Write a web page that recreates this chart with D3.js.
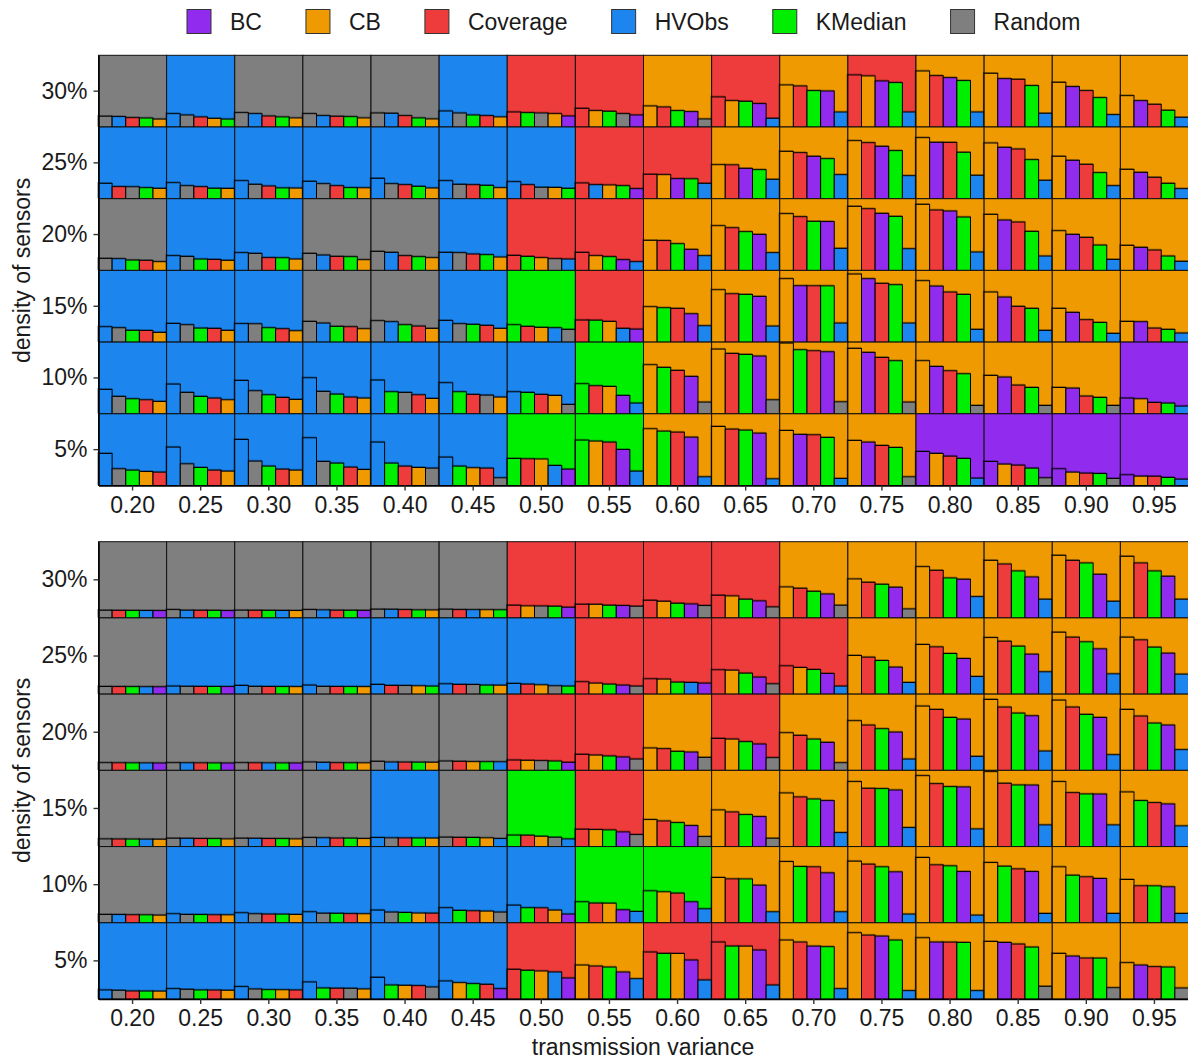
<!DOCTYPE html>
<html>
<head>
<meta charset="utf-8">
<script src="https://cdn.jsdelivr.net/npm/d3@7"></script>
<style>
  body { margin: 0; background: #ffffff; }
  text { font-family: "Liberation Sans", Arial, Helvetica, sans-serif; }
</style>
</head>
<body>
<svg id="chart" width="1188" height="1061"></svg>
<script>
// ---- axes ----
const variances = ["0.20","0.25","0.30","0.35","0.40","0.45","0.50","0.55",
                   "0.60","0.65","0.70","0.75","0.80","0.85","0.90","0.95"];
const densities = ["30%","25%","20%","15%","10%","5%"];   // rows, top to bottom

// ---- methods ----
const methods = ["BC","CB","Coverage","HVObs","KMedian","Random"];
const methodColors = ["#912CEE","#EE9A00","#EE3B3B","#1C86EE","#00EE00","#7F7F7F"];

const NA = null;   // method not among the five shown in that cell

// ---- upper panel: score per method (rows = densities, columns = variances) ----
const topBC = [
  [NA,NA,NA,NA,NA,NA,15.3,16.7,21.4,32.6,50.2,64.2,68.8,67.4,56.3,36.7],
  [NA,NA,NA,NA,NA,NA,NA,14.0,27.9,42.3,59.1,73.0,78.6,71.6,53.5,36.7],
  [NA,NA,NA,NA,NA,NA,NA,14.9,29.3,50.2,68.1,79.5,82.8,70.2,50.2,32.1],
  [NA,NA,NA,NA,NA,NA,NA,18.1,39.5,63.7,78.6,88.4,78.1,62.8,41.4,28.4],
  [NA,NA,NA,NA,NA,NA,NA,25.6,52.1,80.5,86.5,85.6,66.0,51.2,35.8,21.9],
  [NA,NA,NA,NA,NA,NA,22.8,50.2,67.4,73.0,71.2,60.5,47.4,33.5,23.3,14.9]
];
const topCB = [
  [11.0,12.0,12.6,12.6,11.2,14.0,18.6,22.8,29.3,36.7,58.6,71.2,78.1,74.9,62.3,43.7],
  [14.4,14.3,14.8,15.2,14.9,15.3,15.7,19.1,33.5,47.4,66.0,80.9,85.1,77.7,59.1,40.9],
  [12.1,14.0,15.8,14.9,17.7,18.6,17.7,20.5,41.9,62.3,79.1,89.3,92.1,78.1,55.3,34.9],
  [13.5,16.3,15.8,18.6,19.1,19.1,20.5,28.8,49.3,73.0,88.4,94.9,85.6,69.8,47.0,28.8],
  [17.2,19.5,20.0,21.9,21.4,23.3,25.6,38.1,68.4,90.2,98.6,91.2,74.0,53.5,36.7,20.9],
  [19.5,20.0,21.4,22.3,25.1,24.7,36.9,61.9,79.1,82.3,76.7,62.8,44.7,29.8,18.6,13.0]
];
const topCoverage = [
  [13.0,14.0,15.3,14.9,15.8,15.8,20.9,26.0,27.9,41.9,57.2,72.6,71.6,66.5,50.7,31.6],
  [16.8,16.7,17.7,18.1,19.5,19.5,19.5,21.9,34.0,47.2,64.2,78.1,78.5,69.3,47.9,29.8],
  [14.0,15.3,17.8,19.5,20.5,22.8,20.9,25.1,41.6,59.5,74.9,86.0,84.2,67.4,46.0,28.4],
  [16.2,19.1,18.6,21.4,22.3,23.3,21.9,30.7,47.0,67.4,78.5,81.9,69.8,49.8,31.2,19.5],
  [19.5,21.9,22.8,23.3,26.5,27.0,27.0,39.1,60.5,84.2,87.9,78.6,60.0,40.0,24.7,15.8],
  [18.6,21.4,22.8,25.6,27.0,24.2,37.2,60.5,74.4,78.6,70.7,55.8,40.9,28.4,17.2,12.9]
];
const topHVObs = [
  [14.5,18.6,18.6,15.8,19.1,22.3,NA,NA,NA,12.1,20.9,20.9,20.9,19.1,17.2,13.5],
  [21.4,22.3,25.1,24.2,28.4,25.1,23.7,19.5,21.4,27.0,33.5,32.1,32.6,25.6,18.1,14.0],
  [16.3,20.5,24.7,21.4,25.1,25.1,15.8,12.1,20.5,24.7,30.7,30.2,25.6,20.0,15.3,12.6],
  [21.4,26.0,25.7,26.5,28.4,30.2,20.0,19.1,22.8,22.3,26.5,26.5,17.7,16.3,12.1,12.6],
  [34.0,41.4,46.5,50.2,47.0,43.3,30.7,14.9,NA,NA,NA,NA,NA,NA,NA,10.7],
  [44.7,53.5,64.2,66.5,60.5,39.5,27.9,20.0,12.1,9.3,9.8,NA,10.2,NA,NA,8.8]
];
const topKMedian = [
  [12.5,11.0,14.0,14.4,12.6,16.7,20.0,21.9,22.8,35.8,50.7,61.9,64.7,57.7,40.9,23.3],
  [15.3,14.5,15.0,15.4,17.2,18.6,14.4,18.1,27.7,40.5,55.8,67.0,64.7,54.4,36.3,21.4],
  [14.4,15.8,17.6,19.1,19.1,21.9,19.5,19.1,37.2,54.0,68.4,75.3,74.4,54.4,35.3,20.0],
  [16.4,19.5,20.0,21.9,24.2,24.7,24.2,30.5,47.9,66.5,78.4,80.0,66.5,47.0,27.4,17.7],
  [20.9,24.2,26.5,27.4,30.7,30.7,29.8,41.9,64.7,82.8,89.3,74.0,55.8,36.7,22.8,14.9],
  [21.4,25.1,27.0,31.2,31.2,27.0,37.7,63.3,75.8,77.2,67.0,53.0,37.7,24.2,16.7,11.2]
];
const topRandom = [
  [15.0,16.7,20.0,18.6,19.5,19.5,19.5,18.6,11.2,NA,NA,NA,NA,NA,NA,NA],
  [16.6,18.1,20.0,20.9,20.9,20.0,15.9,NA,NA,NA,NA,NA,NA,NA,NA,NA],
  [16.7,19.5,23.7,23.7,26.5,24.7,16.3,NA,NA,NA,NA,NA,NA,NA,NA,NA],
  [20.0,24.2,25.5,28.8,29.8,25.6,17.7,NA,NA,NA,NA,NA,NA,NA,NA,NA],
  [24.2,29.8,32.1,31.2,29.8,26.0,13.0,NA,16.3,19.5,16.7,16.3,11.6,11.6,11.6,NA],
  [23.3,30.2,34.0,33.5,24.2,10.7,NA,NA,NA,NA,NA,12.1,NA,10.7,9.8,NA]
];

// ---- lower panel ----
const botBC = [
  [9.6,9.6,NA,9.9,NA,NA,14.0,16.2,18.3,22.3,31.4,40.2,50.7,53.7,57.2,54.6],
  [9.6,9.9,NA,NA,NA,NA,NA,11.8,14.4,22.3,27.1,35.4,46.7,52.4,59.4,53.7],
  [9.6,9.6,9.6,NA,NA,NA,10.5,17.5,24.0,34.5,36.7,50.2,67.2,71.6,69.4,59.4],
  [NA,NA,NA,NA,NA,NA,NA,19.2,27.5,39.3,60.3,74.2,78.2,80.7,68.9,55.9],
  [NA,NA,NA,NA,NA,NA,11.4,17.0,27.5,49.3,65.5,66.8,67.2,67.2,58.1,47.2],
  [NA,NA,NA,NA,NA,13.5,27.5,35.4,51.1,64.2,69.4,82.5,74.7,74.2,56.3,44.5]
];
const botCB = [
  [NA,NA,9.7,NA,10.4,10.7,15.7,17.8,21.8,28.8,40.6,51.1,67.2,75.5,82.1,80.8],
  [NA,NA,9.8,9.8,10.9,11.7,12.2,14.4,19.7,31.4,34.9,50.7,65.1,74.2,81.2,74.7],
  [NA,NA,NA,9.8,10.6,11.4,13.1,20.0,29.3,41.0,49.3,65.1,84.3,93.0,92.1,79.9],
  [9.6,10.0,10.0,10.5,11.1,11.4,13.5,22.3,35.4,48.0,70.3,85.2,93.0,98.3,85.2,71.6],
  [10.0,10.4,10.9,11.8,12.7,15.3,16.6,25.7,40.6,59.4,80.3,80.8,85.6,79.0,73.4,56.8],
  [10.3,11.4,12.1,13.1,17.9,21.4,36.7,44.5,59.7,69.3,77.3,86.9,80.3,75.5,59.8,47.6]
];
const botCoverage = [
  [9.9,10.0,10.0,10.1,10.9,10.9,16.6,17.9,23.1,29.7,38.9,46.7,62.4,70.7,75.5,72.1],
  [9.9,10.1,10.0,10.0,11.4,12.7,13.1,16.2,20.1,31.9,37.1,48.5,62.0,69.4,74.7,71.2],
  [9.9,9.8,9.9,10.0,10.8,11.8,13.5,21.0,28.4,41.9,45.9,59.4,79.9,83.0,83.0,71.2],
  [9.9,10.5,10.5,11.1,11.3,12.0,14.9,22.7,33.6,45.4,65.1,76.4,82.5,83.0,70.7,57.6],
  [10.5,10.5,11.4,12.0,12.6,15.7,19.6,25.8,38.9,57.6,73.4,76.9,76.0,70.7,60.3,48.5],
  [10.5,11.7,11.8,14.1,17.5,19.2,38.9,43.2,61.6,74.7,74.7,83.8,74.6,72.1,53.7,42.4]
];
const botHVObs = [
  [9.7,10.1,9.8,10.5,11.3,10.8,NA,NA,NA,NA,NA,NA,27.9,24.5,21.8,24.5],
  [9.7,10.5,11.4,11.8,12.7,13.5,14.0,NA,15.3,NA,10.5,15.3,23.1,29.3,26.6,26.2],
  [9.7,9.9,9.8,10.5,10.9,11.2,NA,NA,NA,NA,NA,14.8,18.3,25.3,20.5,27.1],
  [9.7,10.8,10.8,11.5,11.8,10.5,10.0,NA,NA,NA,18.3,24.9,23.1,28.4,28.4,27.1],
  [10.8,11.8,13.1,14.4,16.6,19.7,23.1,14.8,18.3,14.4,14.4,11.4,10.0,12.2,12.2,12.2],
  [11.8,13.5,16.2,22.3,28.4,23.6,35.4,26.6,24.9,18.3,13.5,10.9,10.9,NA,NA,NA]
];
const botKMedian = [
  [9.8,9.9,9.9,10.0,10.5,10.6,15.3,16.6,19.2,24.5,34.9,44.1,52.4,61.6,72.1,61.6],
  [9.8,10.0,9.9,9.9,10.5,11.8,10.5,13.1,15.7,27.5,32.3,44.1,53.3,62.9,68.6,61.6],
  [9.8,9.7,9.7,9.9,10.7,11.3,12.2,18.8,24.9,37.6,41.0,54.6,69.4,75.1,73.4,62.0],
  [9.8,10.4,10.4,11.0,11.2,11.9,15.0,21.8,31.4,41.9,62.4,76.0,78.6,80.8,69.0,60.3],
  [10.4,10.8,11.3,12.4,13.5,16.2,19.7,27.5,41.9,57.5,73.8,73.4,74.7,74.2,62.4,48.4],
  [10.4,11.8,12.2,14.4,18.3,20.1,37.6,41.9,59.8,69.4,68.6,77.3,74.2,68.1,53.6,41.9]
];
const botRandom = [
  [10.0,10.9,10.1,10.9,11.4,11.4,15.6,15.3,16.2,14.4,16.6,11.8,NA,NA,NA,NA],
  [10.0,10.2,10.1,10.1,11.3,12.6,10.9,10.5,NA,13.5,NA,NA,NA,NA,NA,NA],
  [10.0,10.0,10.0,10.9,11.8,12.2,12.7,14.8,17.0,16.6,10.0,NA,NA,NA,NA,NA],
  [10.0,10.9,10.9,11.8,11.4,12.3,12.2,15.7,13.1,10.9,NA,NA,NA,NA,NA,NA],
  [10.9,10.9,11.8,12.5,14.0,14.0,NA,NA,NA,NA,NA,NA,NA,NA,NA,NA],
  [11.4,12.7,13.1,14.0,15.7,NA,NA,NA,NA,NA,NA,NA,NA,16.6,14.8,14.4]
];

// ---- drawing ----
const svg = d3.select("#chart");
const color = d3.scaleOrdinal(methods, methodColors);
const FONT = 23;

const x = d3.scaleBand().domain(variances).range([98.5, 1188.5]);

const panels = [
  { top: 55.3, bottom: 485.5,
    series: { BC: topBC, CB: topCB, Coverage: topCoverage, HVObs: topHVObs, KMedian: topKMedian, Random: topRandom } },
  { top: 541.7, bottom: 999,
    series: { BC: botBC, CB: botCB, Coverage: botCoverage, HVObs: botHVObs, KMedian: botKMedian, Random: botRandom } }
];

panels.forEach(panel => {
  const y = d3.scaleBand().domain(densities).range([panel.top, panel.bottom]);
  const barH = d3.scaleLinear().domain([0, 100]).range([0, y.bandwidth()]);
  const rank = d3.scaleBand().domain(d3.range(5)).range([0, x.bandwidth()]);

  // each cell: the five shown methods, best first
  const cells = [];
  densities.forEach((d, ri) => {
    variances.forEach((v, ci) => {
      const bars = methods
        .map(m => ({ method: m, value: panel.series[m][ri][ci] }))
        .filter(b => b.value !== null)
        .sort((a, b) => b.value - a.value);
      cells.push({ density: d, variance: v, bars });
    });
  });

  const g = svg.append("g");
  const cellG = g.selectAll("g.cell").data(cells).join("g")
    .attr("class", "cell")
    .attr("transform", c => `translate(${x(c.variance)},${y(c.density)})`);

  // cell background in the winner's colour
  cellG.append("rect")
    .attr("class", "bg")
    .attr("width", x.bandwidth())
    .attr("height", y.bandwidth())
    .attr("fill", c => color(c.bars[0].method))
    .attr("stroke", "#111")
    .attr("stroke-width", 1);

  // faint offset outline giving the bars a soft edge
  cellG.selectAll("rect.shade").data(c => c.bars).join("rect")
    .attr("class", "shade")
    .attr("x", (b, i) => rank(i) - 0.8)
    .attr("width", rank.bandwidth())
    .attr("y", b => y.bandwidth() - barH(b.value) - 0.8)
    .attr("height", b => barH(b.value))
    .attr("fill", "none")
    .attr("stroke", "rgba(0,0,0,0.35)")
    .attr("stroke-width", 1);

  cellG.selectAll("rect.bar").data(c => c.bars).join("rect")
    .attr("class", "bar")
    .attr("x", (b, i) => rank(i))
    .attr("width", rank.bandwidth())
    .attr("y", b => y.bandwidth() - barH(b.value))
    .attr("height", b => barH(b.value))
    .attr("fill", b => color(b.method))
    .attr("stroke", "#000")
    .attr("stroke-width", 1);

  // axes
  const xAxis = g.append("g")
    .attr("transform", `translate(0,${panel.bottom})`)
    .call(d3.axisBottom(x).tickSize(5).tickSizeOuter(0).tickPadding(6));
  const yAxis = g.append("g")
    .attr("transform", `translate(${x.range()[0]},0)`)
    .call(d3.axisLeft(y).tickSize(5).tickSizeOuter(0).tickPadding(6));

  [xAxis, yAxis].forEach(ax => {
    ax.select(".domain").attr("stroke", "#000").attr("stroke-width", 1.6);
    ax.selectAll(".tick line").attr("stroke", "#333").attr("stroke-width", 1.4);
    ax.selectAll(".tick text")
      .attr("fill", "#1a1a1a")
      .style("font-size", FONT + "px")
      .style("font-family", '"Liberation Sans", Arial, sans-serif');
  });

  // y axis title
  g.append("text")
    .attr("transform", `translate(30,${(panel.top + panel.bottom) / 2}) rotate(-90)`)
    .attr("text-anchor", "middle")
    .attr("fill", "#1a1a1a")
    .style("font-size", FONT + "px")
    .text("density of sensors");
});

// x axis title
svg.append("text")
  .attr("x", 643)
  .attr("y", 1055)
  .attr("text-anchor", "middle")
  .attr("fill", "#1a1a1a")
  .style("font-size", FONT + "px")
  .text("transmission variance");

// legend
const legend = svg.append("g").attr("class", "legend");
let lx = 187;
methods.forEach(m => {
  const item = legend.append("g").attr("transform", `translate(${lx},0)`);
  item.append("rect")
    .attr("x", 0).attr("y", 9.5)
    .attr("width", 24).attr("height", 24)
    .attr("fill", color(m))
    .attr("stroke", "#333")
    .attr("stroke-width", 1);
  const t = item.append("text")
    .attr("x", 43)
    .attr("y", 29.5)
    .attr("fill", "#1a1a1a")
    .style("font-size", FONT + "px")
    .text(m);
  lx += 43 + t.node().getComputedTextLength() + 44;
});
</script>
</body>
</html>
